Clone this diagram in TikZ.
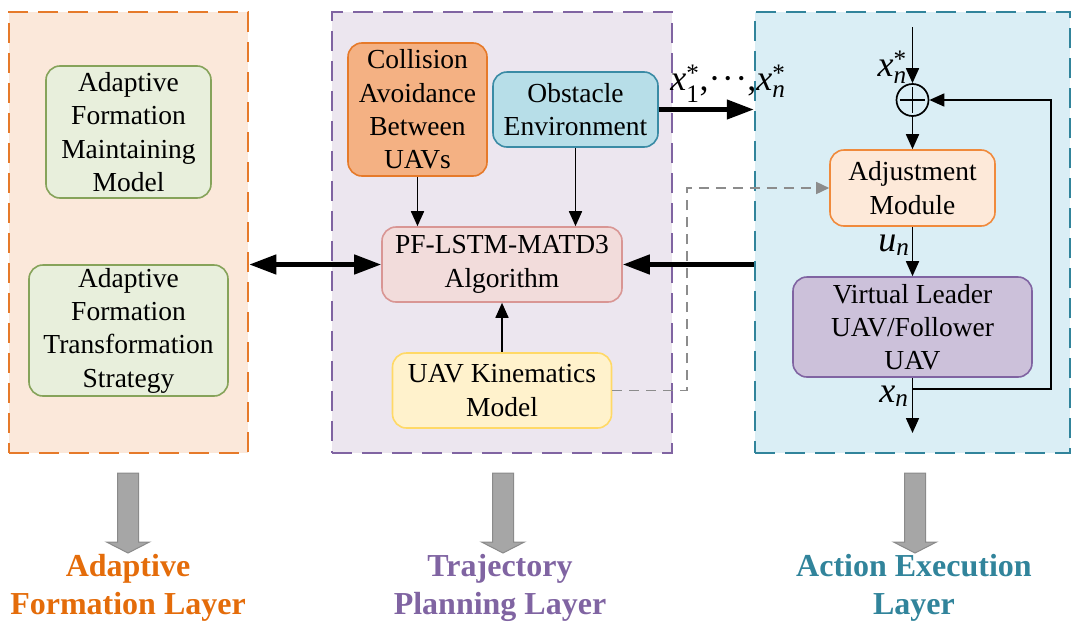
\documentclass[tikz,border=0pt]{standalone}
\usepackage{amsmath}
\usepackage{fontspec}
\setmainfont{Liberation Serif}
\usetikzlibrary{arrows.meta}
\definecolor{aflfill}{HTML}{FBE8DA}
\definecolor{aflline}{HTML}{E67A2A}
\definecolor{gfill}{HTML}{E8EFDC}
\definecolor{gline}{HTML}{86A35A}
\definecolor{tplfill}{HTML}{ECE6EF}
\definecolor{tplline}{HTML}{8064A2}
\definecolor{colfill}{HTML}{F4B183}
\definecolor{colline}{HTML}{E67A2A}
\definecolor{obsfill}{HTML}{B7DEE8}
\definecolor{obsline}{HTML}{3A8BA5}
\definecolor{pffill}{HTML}{F2DCDB}
\definecolor{pfline}{HTML}{D99694}
\definecolor{kinfill}{HTML}{FFF2CC}
\definecolor{kinline}{HTML}{FFD966}
\definecolor{aelfill}{HTML}{DAEEF5}
\definecolor{aelline}{HTML}{31849B}
\definecolor{adjfill}{HTML}{FDE9D9}
\definecolor{adjline}{HTML}{F08A3C}
\definecolor{vlfill}{HTML}{CCC1DA}
\definecolor{vlline}{HTML}{8064A2}
\definecolor{blkfill}{HTML}{A6A6A6}
\definecolor{blkline}{HTML}{8A8A8A}
\definecolor{dashgray}{HTML}{8C8C8C}
\definecolor{labor}{HTML}{E46C0A}
\definecolor{labpu}{HTML}{8064A2}
\definecolor{labte}{HTML}{31849B}
\newcommand{\mydots}{\text{\textperiodcentered\kern1.5pt\textperiodcentered\kern1.5pt\textperiodcentered}}
\begin{document}
\begin{tikzpicture}[x=1pt,y=-1pt,
  layerbox/.style={draw, dashed, dash pattern=on 20pt off 10pt, line width=2.5pt, inner sep=0pt},
  box/.style={draw, rounded corners=14pt, line width=1.6pt, align=center, inner sep=0pt,
    font=\fontsize{27.5}{33.3}\selectfont},
  lab/.style={inner sep=0pt, font=\fontsize{36}{40}\selectfont},
  laylab/.style={inner sep=0pt, align=center, font=\fontsize{32}{38}\selectfont\bfseries},
  arr/.style={-{Triangle[length=15pt,width=13pt]}, line width=1.7pt},
  bigarr/.style={-{Triangle[length=27pt,width=19pt]}, line width=4.5pt},
  bigdbl/.style={{Triangle[length=27pt,width=19pt]}-{Triangle[length=27pt,width=19pt]}, line width=4.5pt},
  grayarr/.style={-{Triangle[length=13pt,width=12pt]}, line width=1.5pt, draw=dashgray, dash pattern=on 10pt off 7pt},
  blockarr/.style={fill=blkfill, draw=blkline, line width=1pt}
]
\useasboundingbox (0,0) rectangle (1081,627);

% layer boxes
\node[layerbox, fill=aflfill, draw=aflline, minimum width=239pt, minimum height=441pt] (afl) at (128.5,232.5) {};
\node[layerbox, fill=tplfill, draw=tplline, minimum width=340pt, minimum height=441pt] (tpl) at (502,232.5) {};
\node[layerbox, fill=aelfill, draw=aelline, minimum width=315pt, minimum height=441pt] (ael) at (912.5,232.5) {};

% adaptive formation layer
\node[box, fill=gfill, draw=gline, minimum width=165pt, minimum height=132pt] (afm) at (128.5,132) {Adaptive\\Formation\\Maintaining\\Model};
\node[box, fill=gfill, draw=gline, minimum width=199pt, minimum height=131pt] (aft) at (128.5,330.5) {Adaptive\\Formation\\Transformation\\Strategy};

% trajectory planning layer
\node[box, fill=colfill, draw=colline, minimum width=139pt, minimum height=133pt] (col) at (417.5,109.5) {Collision\\Avoidance\\Between\\UAVs};
\node[box, fill=obsfill, draw=obsline, minimum width=165pt, minimum height=75pt] (obs) at (575.5,109.5) {Obstacle\\Environment};
\node[box, fill=pffill, draw=pfline, minimum width=240pt, minimum height=75pt] (pf) at (502,264.5) {PF-LSTM-MATD3\\Algorithm};
\node[box, fill=kinfill, draw=kinline, minimum width=219pt, minimum height=75pt] (kin) at (502,390.5) {UAV Kinematics\\Model};

% action execution layer
\node[draw, circle, line width=1.7pt, minimum size=32pt, inner sep=0pt] (sum) at (912.5,100) {};
\draw[line width=1.7pt] ([yshift=-4pt]sum.north) -- ([yshift=4pt]sum.south)
  ([xshift=4pt]sum.west) -- ([xshift=-4pt]sum.east);
\node[box, fill=adjfill, draw=adjline, minimum width=165pt, minimum height=76pt] (adj) at (912.5,188) {Adjustment\\Module};
\node[box, fill=vlfill, draw=vlline, minimum width=239pt, minimum height=100pt] (vl) at (912.5,327) {Virtual Leader\\UAV/Follower\\UAV};

\coordinate (xin) at (912.5,27);
\coordinate (xout) at (912.5,433);
\coordinate (fb) at (912.5,389);
\coordinate (fbc) at (1051,389);
\coordinate (gcorner) at (687,390.5);

% connectors
\draw[arr] (col.south) -- (col.south |- pf.north);
\draw[arr] (obs.south) -- (obs.south |- pf.north);
\draw[arr] (kin.north) -- (pf.south);
\draw[bigdbl] (afl.east |- pf.west) -- (pf.west);
\draw[bigarr] (pf.east -| ael.west) -- (pf.east);
\draw[bigarr] (obs.east) -- (obs.east -| ael.west);
\draw[grayarr] (kin.east) -- (gcorner) |- (adj.west);
\draw[arr] (xin) -- (sum.north);
\draw[arr] (sum.south) -- (adj.north);
\draw[arr] (adj.south) -- (vl.north);
\draw[arr] (vl.south) -- (xout);
\draw[arr] (fb) -- (fbc) |- (sum.east);

% labels
\node[lab, anchor=east] (lxns) at (907,67) {$\textit{x}^{\text{*}}_{\textit{n}}$};
\node[lab] (lun) at (894,245) {$\textit{u}_{\textit{n}}$};
\node[lab] (lxn) at (894,396) {$\textit{x}_{\textit{n}}$};
\node[lab] (lxall) at (728,84) {$\textit{x}^{\text{*}}_{\text{1}}\text{,}\mydots\text{,}\textit{x}^{\text{*}}_{\textit{n}}$};

% bottom block arrows
\foreach \cx/\nm in {128/ba1, 503/ba2, 915/ba3}{
  \draw[blockarr] (\cx-10.5,473) -- (\cx+10.5,473) -- (\cx+10.5,542) -- (\cx+21.5,542)
    -- (\cx,553) -- (\cx-21.5,542) -- (\cx-10.5,542) -- cycle;
}
\node[laylab, text=labor] (lafl) at (128,588) {Adaptive\\Formation Layer};
\node[laylab, text=labpu] (ltpl) at (500,588) {Trajectory\\Planning Layer};
\node[laylab, text=labte] (lael) at (914,588) {Action Execution\\Layer};
\end{tikzpicture}
\end{document}
